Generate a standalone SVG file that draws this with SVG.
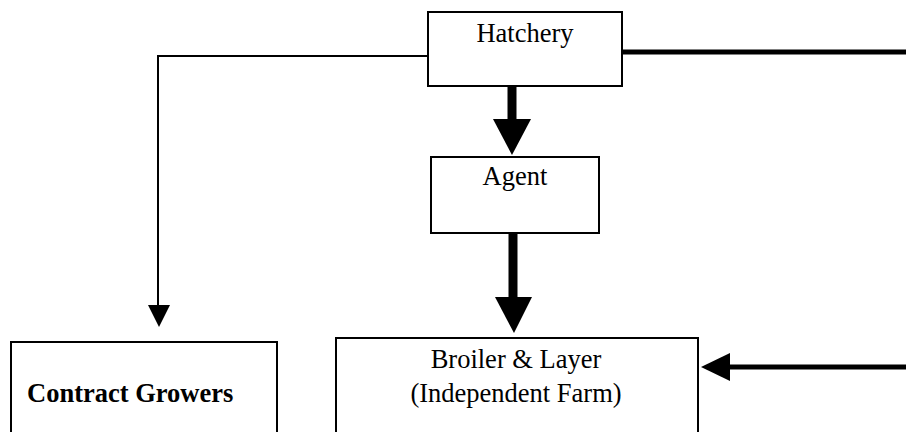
<svg xmlns="http://www.w3.org/2000/svg" width="906" height="432" viewBox="0 0 906 432">
<style>
.box{fill:#fff;stroke:#000;stroke-width:2}
.t{font-family:"Liberation Serif","Times New Roman",serif;font-size:26.5px;fill:#000}
.b{font-weight:bold}
.thin{fill:none;stroke:#000;stroke-width:2}
.thick{fill:none;stroke:#000;stroke-width:5}
.shaft{fill:none;stroke:#000;stroke-width:9}
.head{fill:#000}
</style>
<rect width="906" height="432" fill="#fff"/>
<g id="connectors">
<polyline class="thin" points="428,56 158,56 158,306"/>
<polygon class="head" points="148,305 170,305 159,327"/>
<line class="thick" x1="622" y1="52" x2="906" y2="52"/>
<line class="shaft" x1="512" y1="86" x2="512" y2="120"/>
<polygon class="head" points="493,119 531,119 512,155"/>
<line class="shaft" x1="513" y1="233" x2="513" y2="298"/>
<polygon class="head" points="495,297 532,297 514,333"/>
<line class="thick" x1="728" y1="367" x2="906" y2="367"/>
<polygon class="head" points="730,353 730,381 701,367"/>
</g>
<g id="hatchery">
<rect class="box" x="428" y="12" width="194" height="74"/>
<text class="t" x="525" y="42" text-anchor="middle">Hatchery</text>
</g>
<g id="agent">
<rect class="box" x="431" y="157" width="168" height="76"/>
<text class="t" x="515" y="185" text-anchor="middle">Agent</text>
</g>
<g id="contract-growers">
<rect class="box" x="11" y="342" width="266" height="100"/>
<text class="t b" x="27" y="402">Contract Growers</text>
</g>
<g id="broiler-layer">
<rect class="box" x="336" y="338" width="362" height="104"/>
<text class="t" x="516" y="368" text-anchor="middle">Broiler &amp; Layer</text>
<text class="t" x="516" y="402" text-anchor="middle">(Independent Farm)</text>
</g>
</svg>
